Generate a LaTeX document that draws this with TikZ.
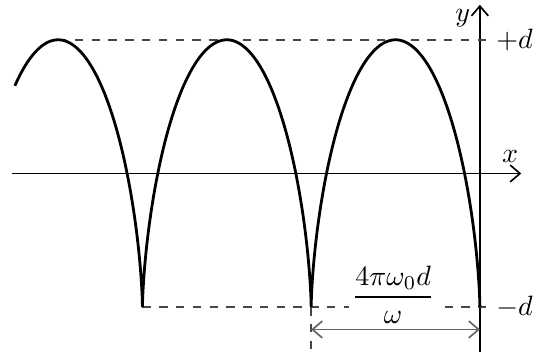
\documentclass[tikz,border=0pt]{standalone}
\usepackage{amsmath}
\usepackage{tikz}
\usetikzlibrary{arrows.meta}
\definecolor{dashgray}{RGB}{70,70,70}
\definecolor{arrowgray}{RGB}{100,100,100}

\begin{document}
\begin{tikzpicture}[>={Straight Barb[length=3.5pt,width=6pt]}]
\useasboundingbox (-6.03,-2.24) rectangle (0.68,2.18);
% axes
\draw[->, semithick] (-5.88,0) -- (0.52,0);
\draw[->, semithick] (0,-2.24) -- (0,2.12);
\node[anchor=base] (xlab) at (0.38,0.14) {$x$};
\node[anchor=base east, inner sep=0.5pt] (ylab) at (-0.1,1.91) {$y$};
% levels +d and -d
\coordinate (top) at (-5.30,1.68);
\coordinate (cuspA) at (-4.24,-1.68);
\coordinate (cuspB) at (-2.12,-1.68);
\coordinate (cuspC) at (0,-1.68);
\draw[dashgray, dashed, semithick] (top) -- (0.15,1.68);
\draw[dashgray, dashed, semithick] (cuspA) -- (0.15,-1.68);
\draw[dashgray, dashed, semithick] (cuspB) -- (-2.12,-2.24);
\node[left, inner sep=0pt] (plusd) at (0.67,1.68) {$+d$};
\node[left, inner sep=0pt] (minusd) at (0.67,-1.68) {$-d$};
% trajectory
\draw[line width=1pt, samples=600, domain=131:1080, variable=\t]
  plot ({-6.36+0.3374*(\t*pi/180-sin(\t))}, {-1.68*cos(\t)});
% period
\coordinate (arrA) at (-2.12,-1.96);
\coordinate (arrB) at (0,-1.96);
\draw[arrowgray, semithick, <->] (arrA) -- (arrB);
\node[fill=white, inner sep=1pt] (period) at (-1.09,-1.52) {$\dfrac{4\pi\omega_0 d}{\omega}$};
\end{tikzpicture}
\end{document}
